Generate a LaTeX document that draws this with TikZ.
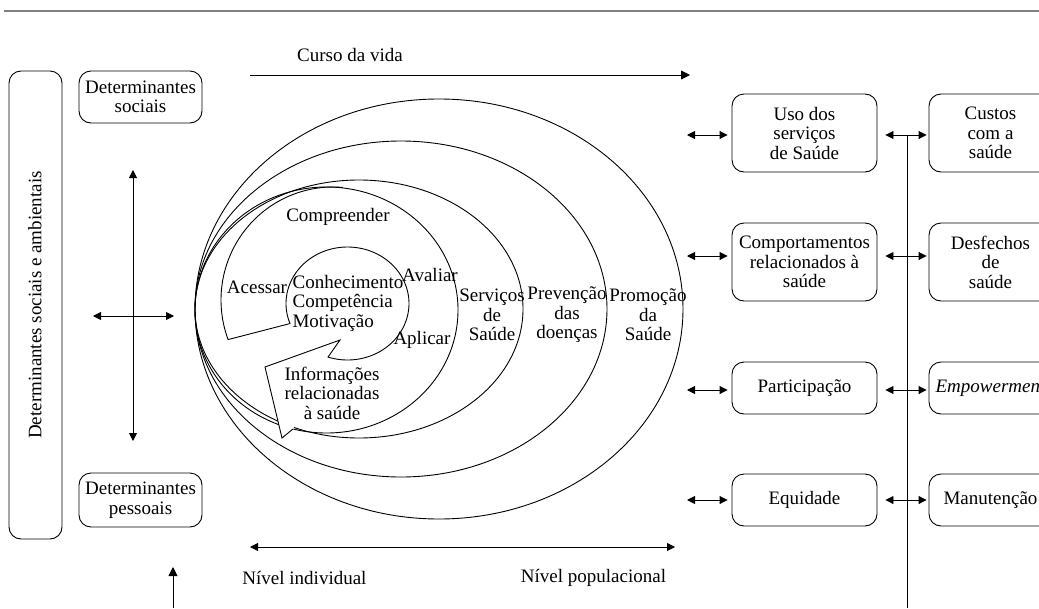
\documentclass[tikz,border=0pt]{standalone}
\usepackage{fontspec}
\setmainfont{Liberation Serif}
\usetikzlibrary{arrows.meta,calc,positioning}

\tikzset{
  txt/.style={font=\fontsize{19}{19.5}\selectfont, align=center, inner sep=0pt},
  box/.style={txt, draw, rounded corners=12pt},
  tip/.style={-{Triangle[length=9pt,width=9pt]}},
  dbl/.style={{Triangle[length=8pt,width=8pt]}-{Triangle[length=8pt,width=8pt]}},
}

\begin{document}
\begin{tikzpicture}[x=1pt,y=-1pt,line width=0.9pt]
\useasboundingbox (0,0) rectangle (1039,608);
\clip (0,0) rectangle (1039,608);
\draw[gray,line width=2pt] (4,11) -- (1039,11);

\draw[rounded corners=12pt] (9,71) rectangle (62,539);
\node[txt,rotate=90] (Amb) at (35,305) {Determinantes sociais e ambientais};
\node[box,minimum width=123pt,minimum height=52pt] (DetSoc) at (140.5,97) {Determinantes\\sociais};
\node[box,minimum width=123pt,minimum height=54pt] (DetPes) at (140.5,500) {Determinantes\\pessoais};

\coordinate (VA) at (133,170);
\coordinate (VB) at (133,441);
\coordinate (HA) at (93,316);
\coordinate (HB) at (174,316);
\coordinate (UpA) at (173,608);
\coordinate (UpB) at (173,567);
\draw[dbl] (VA) -- (VB);
\draw[dbl] (HA) -- (HB);
\draw[tip] (UpA) -- (UpB);

\coordinate (CvA) at (250,75);
\coordinate (CvB) at (690,75);
\draw[tip] (CvA) -- (CvB);
\node[txt] (Curso) at (350,55) {Curso da vida};

\coordinate (NvA) at (250,547);
\coordinate (NvB) at (675,547);
\draw[dbl] (NvA) -- (NvB);
\node[txt] (NvInd) at (304.5,578) {Nível individual};
\node[txt] (NvPop) at (593.5,578) {Nível populacional};

\draw (439,309) ellipse[x radius=244pt,y radius=210pt];
\draw (401,309) ellipse[x radius=206pt,y radius=168pt];
\draw (359,309) ellipse[x radius=164pt,y radius=129pt];
\draw (326.5,310) ellipse[x radius=131.5pt,y radius=123pt];

\fill[white] (340,340) -- (265,367) -- (282,438) -- (293,429) -- cycle;
\draw plot[domain=275:159.5,samples=60] ({333+112*cos(\x)},{300+113*sin(\x)})
  -- plot[domain=159.2:468.5,samples=120] ({347.5+61.5*cos(\x)},{303.5+56.5*sin(\x)})
  -- (340,340) -- (265,367) -- (282,438) -- (293,429);

\node[txt] (Compr) at (338,217) {Compreender};
\node[txt] (Acess) at (257,287) {Acessar};
\node[txt,align=left] (Nucleo) at (348,303) {Conhecimento\\Competência\\Motivação};
\node[txt] (Aval) at (430,275) {Avaliar};
\node[txt] (Aplic) at (422,340) {Aplicar};
\node[txt] (Info) at (332,393) {Informações\\relacionadas\\à saúde};
\node[txt] (Serv) at (492,315) {Serviços\\de\\Saúde};
\node[txt] (Prev) at (567,315) {Prevenção\\das\\doenças};
\node[txt] (Prom) at (648,315) {Promoção\\da\\Saúde};

\node[box,minimum width=145pt,minimum height=78pt] (Uso) at (804.5,133) {Uso dos\\serviços\\de Saúde};
\node[box,minimum width=145pt,minimum height=78pt] (Comp) at (804.5,262) {Comportamentos\\relacionados à\\saúde};
\node[box,minimum width=145pt,minimum height=52pt] (Part) at (804.5,388) {Participação};
\node[box,minimum width=145pt,minimum height=52pt] (Equi) at (804.5,500) {Equidade};
\node[box,minimum width=123pt,minimum height=78pt] (Custos) at (990.5,133) {Custos\\com a\\saúde};
\node[box,minimum width=123pt,minimum height=78pt] (Desf) at (990.5,262) {Desfechos\\de\\saúde};
\node[box,minimum width=123pt,minimum height=52pt] (Empow) at (990.5,388) {\itshape Empowerment};
\node[box,minimum width=123pt,minimum height=52pt] (Manut) at (990.5,500) {Manutenção};

\foreach \b/\c/\y in {Uso/Custos/135,Comp/Desf/256,Part/Empow/390,Equi/Manut/500}{
  \coordinate (L\b) at (687,\y);
  \draw[dbl,shorten >=4pt] (L\b) -- (\b.west |- L\b);
  \draw[dbl,shorten <=8pt,shorten >=2pt] (\b.east |- L\b) -- (\c.west |- L\b);
}
\coordinate (Vtop) at (907,135);
\coordinate (Vbot) at (907,608);
\draw (Vtop) -- (Vbot);
\end{tikzpicture}
\end{document}
